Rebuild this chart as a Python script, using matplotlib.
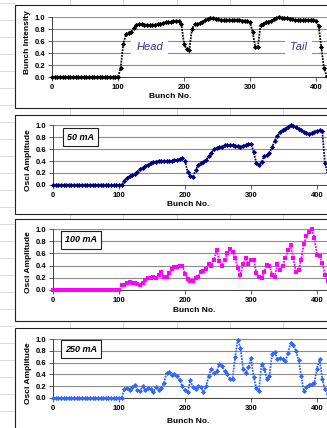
import numpy as np
from matplotlib import pyplot as plt
from matplotlib.lines import Line2D
from matplotlib.patches import Rectangle

plt.rcParams["font.family"] = ["Liberation Sans", "DejaVu Sans"]

# bunch number, sampled every 4 bunches
bunch = np.arange(0, 420, 4)

# values (0 .. 416 step 4)
intensity = [
    0.0, 0.0, 0.0, 0.0, 0.0, 0.0, 0.0, 0.0, 0.0, 0.0, 0.0, 0.0, 0.0,
    0.0, 0.0, 0.0, 0.0, 0.0, 0.0, 0.0, 0.0, 0.0, 0.0, 0.0, 0.0, 0.0,
    0.15, 0.55, 0.71, 0.74, 0.75, 0.82, 0.87, 0.88, 0.88, 0.87, 0.87, 0.86,
    0.87, 0.87, 0.88, 0.89, 0.90, 0.91, 0.92, 0.92, 0.93, 0.93, 0.93, 0.88,
    0.55, 0.46, 0.45, 0.80, 0.88, 0.88, 0.90, 0.92, 0.95, 0.97, 0.99, 0.98,
    0.97, 0.96, 0.95, 0.95, 0.95, 0.95, 0.95, 0.95, 0.95, 0.95, 0.94, 0.94,
    0.93, 0.91, 0.75, 0.50, 0.50, 0.87, 0.89, 0.91, 0.92, 0.94, 0.96, 0.98,
    1.00, 0.99, 0.98, 0.98, 0.97, 0.96, 0.95, 0.95, 0.95, 0.95, 0.95, 0.95,
    0.95, 0.95, 0.94, 0.85, 0.50, 0.15, 0.02,
]

osc_50 = [
    0.0, 0.0, 0.0, 0.0, 0.0, 0.0, 0.0, 0.0, 0.0, 0.0, 0.0, 0.0, 0.0,
    0.0, 0.0, 0.0, 0.0, 0.0, 0.0, 0.0, 0.0, 0.0, 0.0, 0.0, 0.0, 0.0, 0.0,
    0.07, 0.12, 0.15, 0.16, 0.19, 0.22, 0.26, 0.29, 0.32, 0.34, 0.36, 0.38,
    0.39, 0.40, 0.40, 0.40, 0.40, 0.40, 0.40, 0.41, 0.42, 0.43, 0.45, 0.40,
    0.22, 0.15, 0.13, 0.25, 0.33, 0.36, 0.39, 0.42, 0.48, 0.54, 0.60, 0.62,
    0.63, 0.64, 0.66, 0.67, 0.66, 0.66, 0.65, 0.65, 0.64, 0.65, 0.67, 0.68,
    0.69, 0.55, 0.37, 0.34, 0.38, 0.48, 0.50, 0.54, 0.63, 0.74, 0.82, 0.88,
    0.92, 0.94, 0.97, 1.00, 0.98, 0.96, 0.94, 0.92, 0.89, 0.87, 0.85, 0.87,
    0.89, 0.90, 0.91, 0.90, 0.36, 0.21,
]

osc_100 = [
    0.0, 0.0, 0.0, 0.0, 0.0, 0.0, 0.0, 0.0, 0.0, 0.0, 0.0, 0.0, 0.0,
    0.0, 0.0, 0.0, 0.0, 0.0, 0.0, 0.0, 0.0, 0.0, 0.0, 0.0, 0.0, 0.0,
    0.08, 0.09, 0.11, 0.13, 0.12, 0.11, 0.10, 0.09, 0.12, 0.16, 0.19, 0.20,
    0.21, 0.20, 0.24, 0.29, 0.22, 0.22, 0.28, 0.34, 0.37, 0.38, 0.39, 0.40,
    0.27, 0.18, 0.14, 0.14, 0.19, 0.22, 0.29, 0.31, 0.35, 0.42, 0.40, 0.50,
    0.65, 0.48, 0.40, 0.50, 0.60, 0.67, 0.63, 0.52, 0.36, 0.25, 0.42, 0.52,
    0.43, 0.50, 0.50, 0.28, 0.21, 0.19, 0.30, 0.41, 0.40, 0.25, 0.22, 0.42,
    0.32, 0.40, 0.52, 0.65, 0.73, 0.52, 0.30, 0.33, 0.50, 0.76, 0.88, 0.95,
    1.00, 0.86, 0.57, 0.55, 0.45, 0.25, 0.15,
]

osc_250 = [
    0.0, 0.0, 0.0, 0.0, 0.0, 0.0, 0.0, 0.0, 0.0, 0.0, 0.0, 0.0, 0.0,
    0.0, 0.0, 0.0, 0.0, 0.0, 0.0, 0.0, 0.0, 0.0, 0.0, 0.0, 0.0, 0.0, 0.0,
    0.15, 0.17, 0.14, 0.18, 0.22, 0.14, 0.12, 0.20, 0.13, 0.17, 0.15, 0.10,
    0.19, 0.14, 0.17, 0.25, 0.42, 0.44, 0.39, 0.40, 0.38, 0.30, 0.20, 0.13,
    0.10, 0.30, 0.18, 0.15, 0.20, 0.19, 0.10, 0.20, 0.38, 0.50, 0.42, 0.45,
    0.57, 0.55, 0.45, 0.40, 0.32, 0.32, 0.70, 0.99, 0.85, 0.50, 0.42, 0.52,
    0.67, 0.36, 0.17, 0.12, 0.58, 0.50, 0.32, 0.38, 0.75, 0.78, 0.66, 0.68,
    0.66, 0.62, 0.76, 0.93, 0.90, 0.80, 0.65, 0.38, 0.12, 0.18, 0.22, 0.24,
    0.26, 0.50, 0.66, 0.32, 0.15, 0.07,
]

W, H = 327, 428
fig = plt.figure(figsize=(W / 100, H / 100), dpi=100)
fig.patch.set_facecolor("white")


def fx(px):
    return px / W


def fy(py):
    return 1 - py / H


# spreadsheet background
for x in [70, 123, 177, 230, 283]:
    fig.add_artist(Line2D([fx(x), fx(x)], [0, 1], color="#d4d4d4", lw=0.6, zorder=-3))
for y in range(3, H, 17):
    fig.add_artist(Line2D([0, fx(15)], [fy(y), fy(y)], color="#d4d4d4", lw=0.6, zorder=-3))

# chart area frames (top, bottom in px)
for top, bot in [(5, 108), (115, 214), (219, 321), (328, 440)]:
    fig.add_artist(Rectangle((fx(15), fy(bot)), fx(330 - 15), (bot - top) / H,
                             facecolor="white", edgecolor="#202020", lw=0.8, zorder=-1))

# plot areas: left px, y=1.0 px, y=0 px
panels = [
    (52, 17, 77, intensity, "black", "D", "Bunch Intensity", 0.43, -0.33, 0.58),
    (53, 125, 185, osc_50, "#000080", "D", "Osci Amplitude", 0.49, -0.32, 0.42),
    (53, 229, 290, osc_100, "#ff00ff", "s", "Osci Amplitude", 0.51, -0.33, 0.46),
    (53, 339, 398, osc_250, "#3366ff", "D", "Osci Amplitude", 0.49, -0.39, 0.42),
]

axes = []
for left, ytop, ybot, vals, color, mk, ylab, xlx, xly, yly in panels:
    ax = fig.add_axes([fx(left), fy(ybot), fx(left + 418 * 0.66) - fx(left), (ybot - ytop) / H])
    ax.set_facecolor("none")
    ax.plot(bunch, vals, color=color, lw=1.3, ls=(0, (1.0, 0.6)),
            clip_on=False, zorder=3)
    ax.plot(bunch, vals, color=color, marker=mk, markersize=2.6, mew=0, lw=0,
            clip_on=False, zorder=3)
    ax.set_xlim(0, 418)
    ax.set_ylim(0, 1.0)
    ax.set_xticks([0, 100, 200, 300, 400])
    ax.set_yticks([0.0, 0.2, 0.4, 0.6, 0.8, 1.0])
    ax.yaxis.set_major_formatter("{x:.1f}")
    ax.grid(axis="y", color="#8c8c8c", lw=0.8, zorder=1)
    ax.set_axisbelow(True)
    for s in ["top", "right"]:
        ax.spines[s].set_visible(False)
    for s in ["left", "bottom"]:
        ax.spines[s].set_linewidth(0.7)
        ax.spines[s].set_color("#404040")
    ax.tick_params(length=3, width=0.6, color="#404040", labelsize=5.5, pad=2)
    for lab in ax.get_xticklabels() + ax.get_yticklabels():
        lab.set_fontweight("bold")
    ax.set_xlabel("Bunch No.", fontsize=6, fontweight="bold")
    ax.xaxis.set_label_coords(xlx, xly)
    ax.xaxis.label.set_va("center")
    ax.set_ylabel(ylab, fontsize=6, fontweight="bold")
    ax.yaxis.set_label_coords(-0.09, yly)
    ax.yaxis.label.set_va("center")
    axes.append(ax)

ax1, ax2, ax3, ax4 = axes

ax1.text(148, 0.5, "Head", color="#333399", fontsize=8, fontstyle="italic",
         ha="center", va="center", zorder=4,
         bbox=dict(boxstyle="square,pad=0.45", fc="white", ec="none"))
ax1.text(374, 0.5, "Tail", color="#333399", fontsize=8, fontstyle="italic",
         ha="center", va="center", zorder=4,
         bbox=dict(boxstyle="square,pad=0.45", fc="white", ec="none"))

for ax, txt, yv in [(ax2, "50 mA", 0.8), (ax3, "100 mA", 0.82), (ax4, "250 mA", 0.83)]:
    ax.text(42, yv, txt, fontsize=6.5, fontweight="bold", fontstyle="italic",
            ha="center", va="center", zorder=4,
            bbox=dict(boxstyle="square,pad=0.45", fc="white", ec="#202020", lw=0.8))

plt.savefig("out.png", dpi=100)
plt.close()
